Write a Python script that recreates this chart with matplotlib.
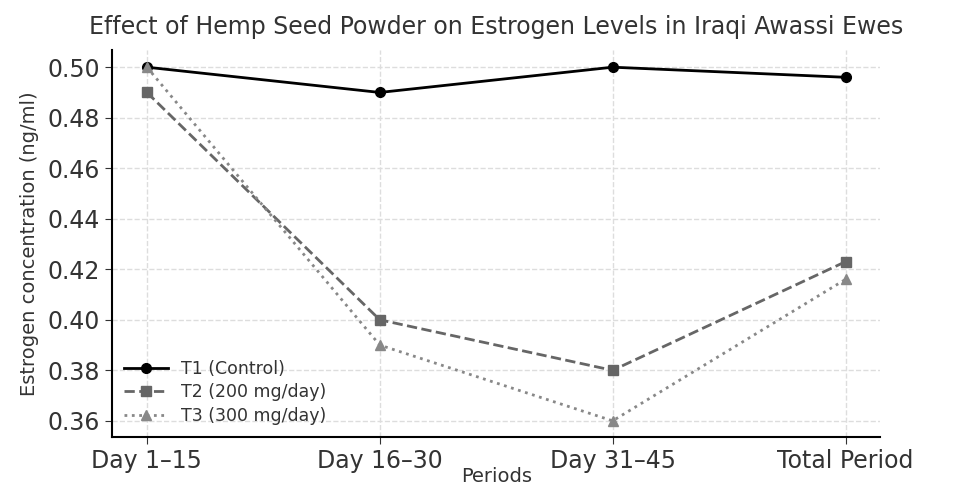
import matplotlib
matplotlib.use("Agg")
import matplotlib.pyplot as plt

periods = ["Day 1–15", "Day 16–30", "Day 31–45", "Total Period"]
t1_control = [0.500, 0.490, 0.500, 0.496]
t2_200mg = [0.490, 0.400, 0.380, 0.423]
t3_300mg = [0.500, 0.390, 0.360, 0.416]

fig, ax = plt.subplots(figsize=(9.57, 4.88), dpi=100)
fig.subplots_adjust(left=0.117, right=0.92, top=0.897, bottom=0.105)

x = range(len(periods))
ax.plot(x, t1_control, color="black", marker="o", markersize=7, linewidth=2,
        linestyle="-", label="T1 (Control)")
ax.plot(x, t2_200mg, color="#666666", marker="s", markersize=7, linewidth=2,
        linestyle="--", label="T2 (200 mg/day)")
ax.plot(x, t3_300mg, color="#888888", marker="^", markersize=7, linewidth=2,
        linestyle=":", label="T3 (300 mg/day)")

ax.set_xticks(list(x))
ax.set_xticklabels(periods, fontsize=17)
ax.set_yticks([0.36, 0.38, 0.40, 0.42, 0.44, 0.46, 0.48, 0.50])
ax.set_yticklabels([f"{v:.2f}" for v in ax.get_yticks()], fontsize=17)
ax.set_xlim(-0.15, 3.15)
ax.set_ylim(0.3537, 0.5067)

ax.set_title("Effect of Hemp Seed Powder on Estrogen Levels in Iraqi Awassi Ewes",
             fontsize=17, color="#333333", pad=12)
ax.set_xlabel("Periods", fontsize=14, color="#333333", labelpad=-4)
ax.set_ylabel("Estrogen concentration (ng/ml)", fontsize=14, color="#333333",
              labelpad=6)

ax.grid(True, linestyle="--", color="#dddddd", linewidth=1)
ax.spines["top"].set_visible(False)
ax.spines["right"].set_visible(False)
ax.spines["left"].set_linewidth(1.5)
ax.spines["bottom"].set_linewidth(1.5)
ax.tick_params(colors="#333333", length=5)

ax.legend(loc="lower left", frameon=False, fontsize=12.5, handlelength=2.5,
          labelspacing=0.3, borderaxespad=0.3, labelcolor="#333333")

fig.savefig("out.png", dpi=100)
